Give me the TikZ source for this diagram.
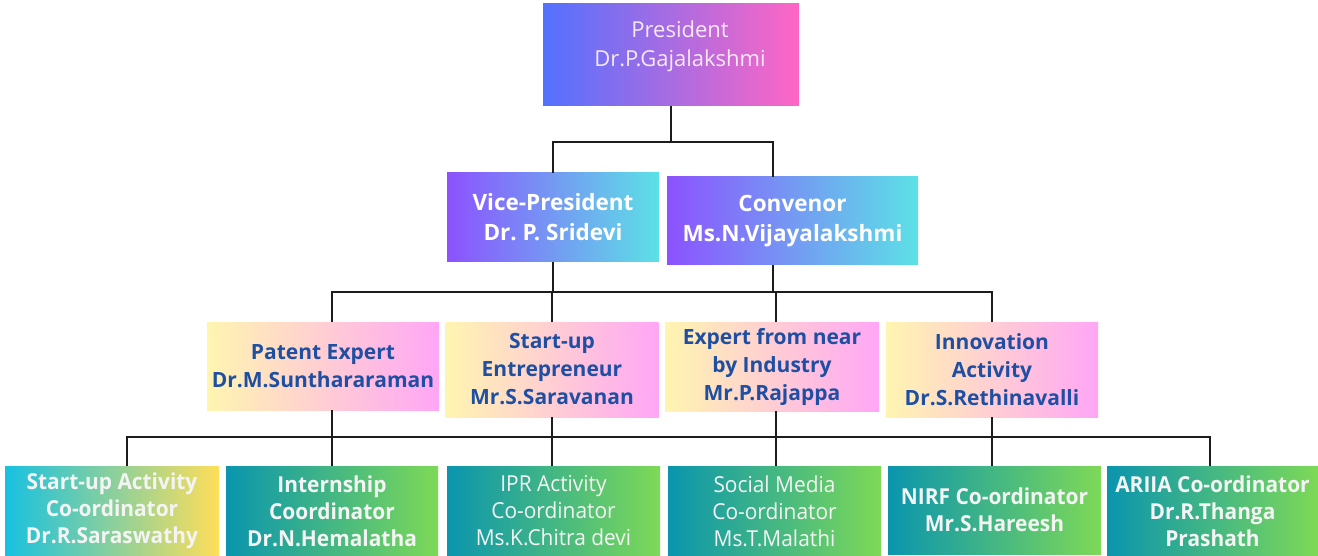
\documentclass[tikz,border=0pt]{standalone}
\usepackage{fontspec}
\setmainfont{Open Sans}
\newfontfamily\condf[FakeStretch=0.95]{Open Sans}
\usetikzlibrary{calc}
\frenchspacing
\definecolor{presL}{HTML}{5271FF}
\definecolor{presR}{HTML}{FF66C4}
\definecolor{presT}{HTML}{F6E8FA}
\definecolor{vpL}{HTML}{8C52FF}
\definecolor{vpR}{HTML}{5CE1E6}
\definecolor{lthreeL}{HTML}{FFF5B0}
\definecolor{lthreeR}{HTML}{FFA6F6}
\definecolor{lthreeT}{HTML}{1F4FA3}
\definecolor{saL}{HTML}{17C1E0}
\definecolor{saR}{HTML}{FFDE59}
\definecolor{gL}{HTML}{0A95AE}
\definecolor{gR}{HTML}{7ED957}
\definecolor{botT}{HTML}{F4F4F4}
\definecolor{lineC}{HTML}{1C1C1C}
\tikzset{
  box/.style={rectangle, inner sep=0pt, outer sep=0pt, align=center, anchor=center},
  presbox/.style={box, left color=presL, right color=presR},
  prestxt/.style={align=center, text=presT, font=\fontsize{22}{29}\selectfont},
  vpbox/.style={box, left color=vpL, right color=vpR, text=white,
    font=\fontsize{22.5}{30}\selectfont\bfseries},
  lthree/.style={box, left color=lthreeL, right color=lthreeR, text=lthreeT,
    font=\fontsize{21}{28}\selectfont\bfseries},
  sabox/.style={box, left color=saL, right color=saR, text=botT,
    minimum height=90pt, font=\fontsize{22}{27}\condf\selectfont\bfseries},
  gbox/.style={box, left color=gL, right color=gR, text=botT,
    minimum height=90pt, font=\fontsize{22}{27}\condf\selectfont\bfseries},
  glight/.style={gbox, font=\fontsize{22}{27}\condf\selectfont},
  conn/.style={draw=lineC, line width=1.6pt}
}
\begin{document}
\begin{tikzpicture}[x=1pt,y=-1pt]
\useasboundingbox (0,0) rectangle (1318,556);
% level 1
\node[presbox, minimum width=256pt, minimum height=102pt] (pres) at (671,55) {};
\node[prestxt] (prestext) at ([shift={(9,-9)}]pres.center) {President\\Dr.P.Gajalakshmi};
% level 2
\node[vpbox, minimum width=212pt, minimum height=89pt] (vp) at (553,217.5) {Vice-President\\Dr. P. Sridevi};
\node[vpbox, minimum width=251pt, minimum height=88pt] (conv) at (792.5,221) {Convenor\\Ms.N.Vijayalakshmi};
% level 3
\node[lthree, minimum width=232pt, minimum height=88pt] (pat) at (323,366) {Patent Expert\\Dr.M.Sunthararaman};
\node[lthree, minimum width=213pt, minimum height=95pt] (su) at (552,369.5) {Start-up\\Entrepreneur\\Mr.S.Saravanan};
\node[lthree, minimum width=214pt, minimum height=89pt] (exp) at (772,366.5) {Expert from near\\by Industry\\Mr.P.Rajappa};
\node[lthree, minimum width=212pt, minimum height=95pt] (inn) at (992,369.5) {Innovation\\Activity\\Dr.S.Rethinavalli};
% level 4
\node[sabox, minimum width=214pt] (sa) at (112,511) {Start-up Activity\\Co-ordinator\\Dr.R.Saraswathy};
\node[gbox, minimum width=212pt] (int) at (332,511) {Internship\\Coordinator\\Dr.N.Hemalatha};
\node[glight, minimum width=213pt] (ipr) at (553.5,511) {IPR Activity\\Co-ordinator\\Ms.K.Chitra devi};
\node[glight, minimum width=213pt] (soc) at (774.5,511) {Social Media\\Co-ordinator\\Ms.T.Malathi};
\node[gbox, minimum width=213pt, minimum height=88pt] (nirf) at (994.5,510) {NIRF Co-ordinator\\Mr.S.Hareesh};
\node[gbox, minimum width=211pt] (ar) at (1212.5,511) {ARIIA Co-ordinator\\Dr.R.Thanga\\Prashath};
% bus levels
\coordinate (b1) at (0,142);
\coordinate (b2) at (0,292);
\coordinate (b3) at (0,437);
\coordinate (cvt) at ([xshift=-19.5pt]conv.north);
\coordinate (cvb) at ([xshift=-19.5pt]conv.south);
\coordinate (pt) at ([xshift=9pt]pat.north);
\coordinate (pb) at ([xshift=9pt]pat.south);
\coordinate (et) at ([xshift=4pt]exp.north);
\coordinate (eb) at ([xshift=4pt]exp.south);
\coordinate (sat) at ([xshift=15pt]sa.north);
\coordinate (art) at ([xshift=-2.5pt]ar.north);
% connectors level 1-2
\draw[conn] (pres.south) -- (pres.south |- b1);
\draw[conn] (vp.north) -- (vp.north |- b1) -- (cvt |- b1) -- (cvt);
% connectors level 2-3
\draw[conn] (vp.south) -- (vp.south |- b2);
\draw[conn] (cvb) -- (cvb |- b2);
\draw[conn] (pt) -- (pt |- b2) -- (inn.north |- b2) -- (inn.north);
\draw[conn] (su.north |- b2) -- (su.north);
\draw[conn] (et |- b2) -- (et);
% connectors level 3-4
\draw[conn] (sat) -- (sat |- b3) -- (art |- b3) -- (art);
\draw[conn] (pb) -- (int.north);
\draw[conn] (su.south) -- (su.south |- ipr.north);
\draw[conn] (eb) -- (eb |- soc.north);
\draw[conn] (inn.south) -- (inn.south |- nirf.north);
\end{tikzpicture}
\end{document}
